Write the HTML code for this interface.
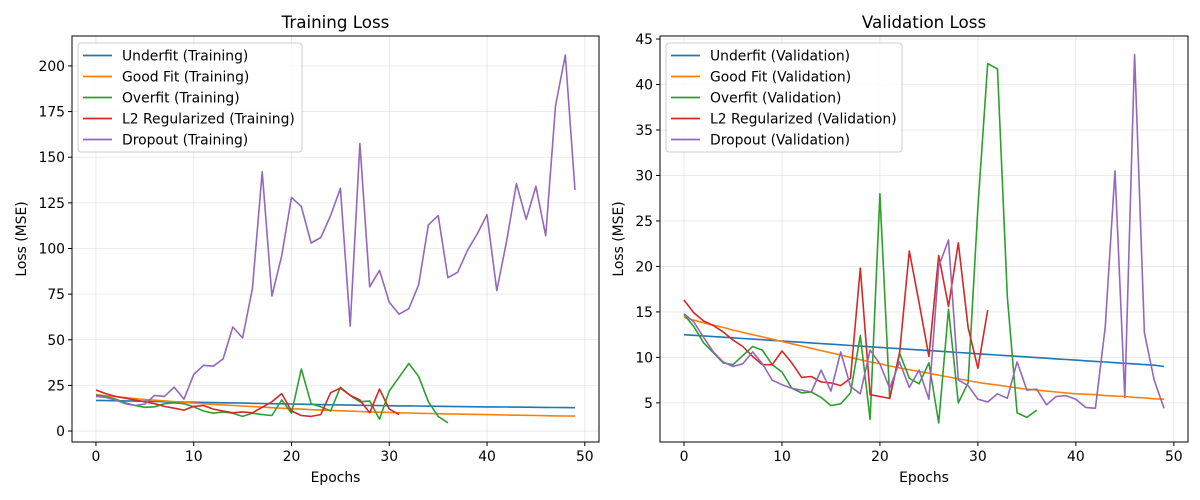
<!DOCTYPE html>
<html><head><meta charset="utf-8">
<style>
body{margin:0;background:#fff;}
svg{display:block;font-family:"DejaVu Sans","Liberation Sans",sans-serif;}
</style></head>
<body>
<svg id="fig" width="1200" height="500" viewBox="0 0 1200 500" xmlns="http://www.w3.org/2000/svg"></svg>
<script>
const epochs = Array.from({length:50},(_,i)=>i);
const seriesNames = ["Underfit","Good Fit","Overfit","L2 Regularized","Dropout"];
const colors = ["#1f77b4","#ff7f0e","#2ca02c","#d62728","#9467bd"];

const trainUnderfit = [16.8,16.7,16.6,16.5,16.4,16.3,16.2,16.1,16.0,15.9,15.8,15.7,15.6,15.5,15.4,15.3,15.2,15.1,15.0,14.9,14.8,14.7,14.6,14.5,14.4,14.3,14.2,14.1,14.0,13.95,13.9,13.8,13.75,13.7,13.6,13.55,13.5,13.4,13.35,13.3,13.25,13.2,13.15,13.1,13.05,13.0,12.95,12.9,12.85,12.8];
const trainGood = [20.0,19.3,18.8,18.3,17.8,17.3,16.9,16.5,16.1,15.7,15.3,14.9,14.6,14.3,14.0,13.7,13.4,13.1,12.8,12.5,12.2,12.0,11.7,11.5,11.3,11.1,10.9,10.7,10.5,10.3,10.2,10.0,9.9,9.7,9.6,9.5,9.4,9.3,9.2,9.1,9.0,8.9,8.8,8.7,8.6,8.5,8.4,8.3,8.25,8.2];
const trainOverfit = [19.7,19.0,17.5,15.5,14.0,13.0,13.3,15.0,15.5,15.0,13.3,11.0,9.8,10.5,9.8,8.0,9.8,9.0,8.5,17.0,9.8,34.0,15.0,13.3,11.0,24.0,19.5,16.0,16.5,6.5,22.0,29.5,37.0,30.0,16.0,8.0,4.5];
const trainL2 = [22.5,20.5,19.0,18.0,17.0,16.0,15.0,13.5,12.5,11.5,13.5,14.0,12.0,11.0,10.0,10.5,10.0,13.0,16.0,20.5,11.0,8.5,8.0,9.0,21.0,23.5,19.5,17.0,10.0,23.0,12.0,9.0];
const trainDropout = [19.0,18.5,17.0,15.0,14.0,14.8,19.5,19.0,24.0,17.5,31.0,36.0,35.5,39.5,57.0,51.0,78.0,142.0,74.0,96.0,128.0,123.0,103.0,106.0,118.0,133.0,57.5,157.5,79.0,88.0,70.5,64.0,67.0,80.0,113.0,118.0,84.0,87.0,99.0,108.0,118.5,77.0,104.0,135.5,116.0,134.0,107.0,178.0,206.0,132.0];

const valUnderfit = [12.5,12.43,12.36,12.29,12.22,12.15,12.08,12.01,11.94,11.87,11.8,11.73,11.66,11.59,11.52,11.45,11.38,11.31,11.24,11.17,11.1,11.03,10.96,10.89,10.82,10.75,10.68,10.61,10.54,10.47,10.4,10.33,10.26,10.19,10.12,10.05,9.98,9.91,9.84,9.77,9.7,9.63,9.56,9.49,9.42,9.35,9.28,9.21,9.14,9.0];
const valGood = [14.4,14.1,13.8,13.55,13.3,13.0,12.75,12.5,12.25,12.0,11.75,11.5,11.25,11.0,10.75,10.5,10.25,10.0,9.75,9.5,9.3,9.05,8.85,8.65,8.45,8.25,8.05,7.85,7.65,7.45,7.25,7.1,6.95,6.8,6.65,6.5,6.4,6.3,6.2,6.1,6.0,5.95,5.9,5.8,5.75,5.7,5.6,5.55,5.45,5.4];
const valOverfit = [14.7,13.4,11.6,10.5,9.4,9.2,10.2,11.2,10.8,9.2,8.4,6.6,6.1,6.2,5.6,4.7,4.9,6.1,12.4,3.2,28.0,5.5,10.5,7.7,7.1,9.4,2.8,15.3,5.0,7.2,26.5,42.3,41.7,16.7,3.9,3.4,4.2];
const valL2 = [16.3,14.9,14.0,13.5,12.8,11.9,11.2,10.1,9.2,9.2,10.7,9.4,7.8,7.9,7.3,7.2,6.9,7.7,19.8,5.9,5.7,5.5,10.4,21.7,16.0,10.1,21.2,15.6,22.6,13.3,8.8,15.2];
const valDropout = [14.8,13.9,12.2,10.6,9.5,9.0,9.3,10.6,9.3,7.5,7.0,6.6,6.4,6.2,8.6,6.3,10.6,6.8,6.0,10.8,9.3,6.6,9.5,6.7,8.6,5.4,20.0,22.9,7.5,6.9,5.4,5.1,6.0,5.5,9.5,6.4,6.5,4.8,5.7,5.8,5.4,4.5,4.4,13.3,30.5,5.6,43.3,12.7,7.5,4.4];

const xTicks = [0,10,20,30,40,50];
const yTicksTrain = [0,25,50,75,100,125,150,175,200];
const yTicksVal = [5,10,15,20,25,30,35,40,45];

const NS="http://www.w3.org/2000/svg";
const svg=document.getElementById('fig');
function mk(tag,attrs,parent){const e=document.createElementNS(NS,tag);for(const k in attrs)e.setAttribute(k,attrs[k]);(parent||svg).appendChild(e);return e;}

function panel(p){
  const g=mk('g',{});
  
  
  const L=p.left,R=p.right,T=36,B=442;
  const xs=v=>L+(v-(-2.45))/(53.9)*(R-L);
  const ys=v=>B-(v-p.ymin)/(p.ymax-p.ymin)*(B-T);
  xTicks.forEach(t=>{const l=mk('line',{x1:xs(t),x2:xs(t),y1:T,y2:B,stroke:'#b0b0b0','stroke-opacity':0.3,'stroke-width':0.8},g);
    });
  p.yTicks.forEach(t=>{const l=mk('line',{x1:L,x2:R,y1:ys(t),y2:ys(t),stroke:'#b0b0b0','stroke-opacity':0.3,'stroke-width':0.8},g);
    });
  p.series.forEach((s,i)=>{
    const pts=s.map((v,j)=>xs(epochs[j]).toFixed(1)+','+ys(v).toFixed(1)).join(' ');
    const pl=mk('polyline',{points:pts,fill:'none',stroke:colors[i],'stroke-width':1.6,'stroke-linejoin':'round'},g);
    
    
  });
  const fr=mk('rect',{x:L,y:T,width:R-L,height:B-T,fill:'none',stroke:'#000','stroke-width':1},g);
  
  xTicks.forEach(t=>{mk('line',{x1:xs(t),x2:xs(t),y1:B,y2:B+4,stroke:'#000'},g);
    const tx=mk('text',{x:xs(t),y:B+19,'text-anchor':'middle','font-size':13.9,fill:'#000'},g);tx.textContent=t;
    });
  p.yTicks.forEach(t=>{mk('line',{x1:L-4,x2:L,y1:ys(t),y2:ys(t),stroke:'#000'},g);
    const tx=mk('text',{x:L-7,y:ys(t)+5,'text-anchor':'end','font-size':13.9,fill:'#000'},g);tx.textContent=t;
    });
  const xt=mk('text',{x:(L+R)/2,y:482,'text-anchor':'middle','font-size':13.9},g);xt.textContent='Epochs';
  
  const yx=p.ylabelX;
  const yt=mk('text',{x:yx,y:(T+B)/2,'text-anchor':'middle','font-size':13.9,transform:`rotate(-90 ${yx} ${(T+B)/2})`},g);yt.textContent='Loss (MSE)';
  
  const ti=mk('text',{x:(L+R)/2,y:28,'text-anchor':'middle','font-size':16.7},g);ti.textContent=p.title;
  
  const lg=mk('g',{},g);
  
  mk('rect',{x:L+6,y:43,width:p.legendW,height:109,rx:3,fill:'#fff','fill-opacity':0.8,stroke:'#ccc'},lg);
  seriesNames.forEach((n,i)=>{
    const y=55.5+i*21;
    mk('line',{x1:L+11,x2:L+40,y1:y,y2:y,stroke:colors[i],'stroke-width':1.8},lg);
    const t=mk('text',{x:L+50,y:y+5,'font-size':13.9},lg);t.textContent=n+' ('+p.suffix+')';
    
  });
}
panel({key:'training',title:'Training Loss',suffix:'Training',left:72,right:599,ymin:-6,ymax:216.4,yTicks:yTicksTrain,ylabelX:26,legendW:224,
  series:[trainUnderfit,trainGood,trainOverfit,trainL2,trainDropout]});
panel({key:'validation',title:'Validation Loss',suffix:'Validation',left:660,right:1188,ymin:0.7,ymax:45.33,yTicks:yTicksVal,ylabelX:623,legendW:236,
  series:[valUnderfit,valGood,valOverfit,valL2,valDropout]});
</script>
</body></html>
